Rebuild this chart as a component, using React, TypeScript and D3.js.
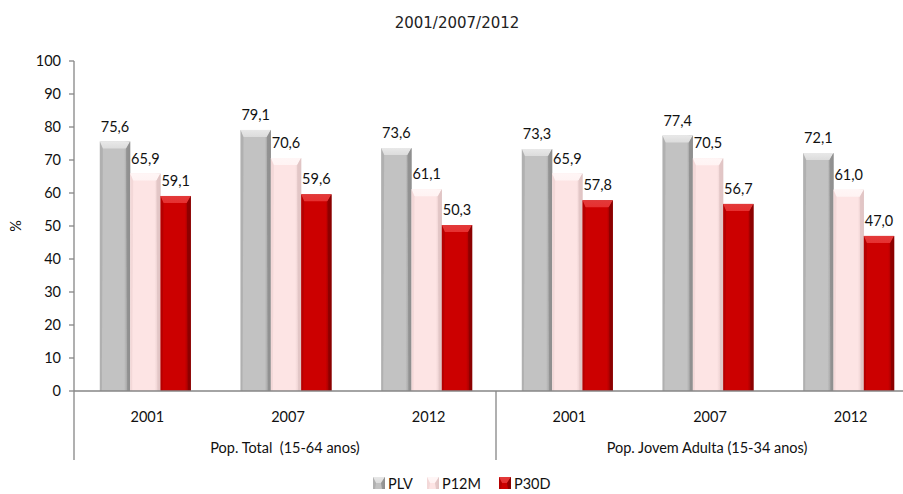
import React from "react";
import * as d3 from "d3";

const groups = ["Pop. Total  (15-64 anos)", "Pop. Jovem Adulta (15-34 anos)"];
const years = ["2001", "2007", "2012"];
const seriesNames = ["PLV", "P12M", "P30D"];
const plv = [75.6, 79.1, 73.6, 73.3, 77.4, 72.1];
const p12m = [65.9, 70.6, 61.1, 65.9, 70.5, 61.0];
const p30d = [59.1, 59.6, 50.3, 57.8, 56.7, 47.0];
const yTicks = [0, 10, 20, 30, 40, 50, 60, 70, 80, 90, 100];
const title = "2001/2007/2012";

const W = 903;
const H = 494;
const FONT = "Lato, 'Open Sans', sans-serif";

const palette = [
  { base: "#c2c2c2", light: "#e8e8e8", dark: "#8e8e8e", top: "#dcdcdc" },
  { base: "#fde4e4", light: "#fff6f6", dark: "#e0c4c4", top: "#fff3f3" },
  { base: "#cc0000", light: "#e23a3a", dark: "#8a0000", top: "#e63030" },
];

function Bar({ x, y, w, h, i }: { x: number; y: number; w: number; h: number; i: number }) {
  const c = palette[i];
  const bev = Math.min(7, h / 2);
  return (
    <g>
      <rect x={x} y={y} width={w} height={h} fill={`url(#g${i})`} />
      <polygon
        points={`${x},${y} ${x + w},${y} ${x + w - 4},${y + bev} ${x + 3},${y + bev}`}
        fill={`url(#t${i})`}
      />
      <polygon
        points={`${x + w},${y} ${x + w},${y + h} ${x + w - 3},${y + h} ${x + w - 4},${y + bev}`}
        fill={c.dark}
        opacity={0.85}
      />
      <polygon
        points={`${x},${y} ${x + 3},${y + bev} ${x + 2},${y + h} ${x},${y + h}`}
        fill={c.dark}
        opacity={0.35}
      />
    </g>
  );
}

export default function App() {
  const cats = groups.flatMap((g, gi) => years.map((yr) => `${gi}-${yr}`));
  const left = 74;
  const bw = (496 - left) / 3;
  const x0 = d3.scaleBand<string>().domain(cats).range([left, left + bw * 6]).padding(0);
  const y = d3.scaleLinear().domain([0, 100]).range([391, 61]);
  const groupW = 91;
  const x1 = d3.scaleBand<string>().domain(seriesNames).range([0, groupW]).padding(0);
  const off = (x0.bandwidth() - groupW) / 2 + 1;
  const data = [plv, p12m, p30d];
  const axisColor = "#868686";

  const groupScale = d3.scaleBand<string>().domain(groups).range([left, left + bw * 6]);

  return (
    <svg width={W} height={H} style={{ position: "absolute", left: 0, top: 0, background: "#fff" }}>
      <defs>
        {palette.map((c, i) => (
          <g key={i}>
            <linearGradient id={`g${i}`} x1="0" x2="1" y1="0" y2="0">
              <stop offset="0" stopColor={c.base} />
              <stop offset="0.45" stopColor={c.base} />
              <stop offset="0.8" stopColor={c.base} />
              <stop offset="1" stopColor={c.dark} />
            </linearGradient>
            <linearGradient id={`t${i}`} x1="0" x2="0" y1="0" y2="1">
              <stop offset="0" stopColor={c.light} />
              <stop offset="1" stopColor={c.top} />
            </linearGradient>
          </g>
        ))}
      </defs>

      <text x={457} y={28} textAnchor="middle" fontFamily="'DejaVu Sans', sans-serif" fontSize={15} fill="#222">
        {title}
      </text>

      {/* y axis */}
      <line x1={left} x2={left} y1={y(100)} y2={460} stroke={axisColor} strokeWidth={1.3} />
      {yTicks.map((t) => (
        <g key={t}>
          <line x1={left - 5} x2={left} y1={y(t)} y2={y(t)} stroke={axisColor} strokeWidth={1.3} />
          <text x={61} y={y(t) + 5} textAnchor="end" fontFamily={FONT} fontSize={14.5} fill="#111">
            {t}
          </text>
        </g>
      ))}
      <text
        transform={`translate(21, ${(y(0) + y(100)) / 2}) rotate(-90)`}
        textAnchor="middle"
        fontFamily={FONT}
        fontSize={14.5}
        fill="#111"
      >
        %
      </text>

      {/* bars */}
      {cats.map((c, ci) => (
        <g key={c}>
          {seriesNames.map((s, si) => {
            const v = data[si][ci];
            const bx = (x0(c) as number) + off + (x1(s) as number);
            const by = y(v);
            return (
              <g key={s}>
                <Bar x={bx} y={by} w={x1.bandwidth()} h={y(0) - by} i={si} />
              </g>
            );
          })}
        </g>
      ))}
      {/* value labels */}
      {cats.map((c, ci) => (
        <g key={`l${c}`}>
          {seriesNames.map((s, si) => {
            const v = data[si][ci];
            const bx = (x0(c) as number) + off + (x1(s) as number) + x1.bandwidth() / 2;
            return (
              <text key={s} x={bx} y={y(v) - 10} textAnchor="middle" fontFamily={FONT} fontSize={14.5} fill="#111">
                {v.toFixed(1).replace(".", ",")}
              </text>
            );
          })}
        </g>
      ))}

      {/* x axis */}
      <line x1={left} x2={W} y1={y(0)} y2={y(0)} stroke={axisColor} strokeWidth={1.3} />
      {groups.map((g) => (
        <line
          key={`d${g}`}
          x1={(groupScale(g) as number) + groupScale.bandwidth()}
          x2={(groupScale(g) as number) + groupScale.bandwidth()}
          y1={y(0)}
          y2={460}
          stroke={axisColor}
          strokeWidth={1.3}
        />
      ))}
      {cats.map((c, ci) => (
        <text
          key={`x${c}`}
          x={(x0(c) as number) + x0.bandwidth() / 2 + 3}
          y={422}
          textAnchor="middle"
          fontFamily={FONT}
          fontSize={14.5}
          fill="#111"
        >
          {years[ci % 3]}
        </text>
      ))}
      {groups.map((g) => (
        <text
          key={`g${g}`}
          x={(groupScale(g) as number) + groupScale.bandwidth() / 2}
          y={453}
          textAnchor="middle"
          fontFamily={FONT}
          fontSize={14.5}
          fill="#111"
          style={{ whiteSpace: "pre" }}
        >
          {g}
        </text>
      ))}

      {/* legend */}
      {seriesNames.map((s, si) => {
        const lx = [373, 427, 499][si];
        return (
          <g key={`lg${s}`}>
            <Bar x={lx} y={477} w={12} h={12} i={si} />
            <text x={lx + 15} y={489} fontFamily={FONT} fontSize={14.5} fill="#111">
              {s}
            </text>
          </g>
        );
      })}
    </svg>
  );
}
